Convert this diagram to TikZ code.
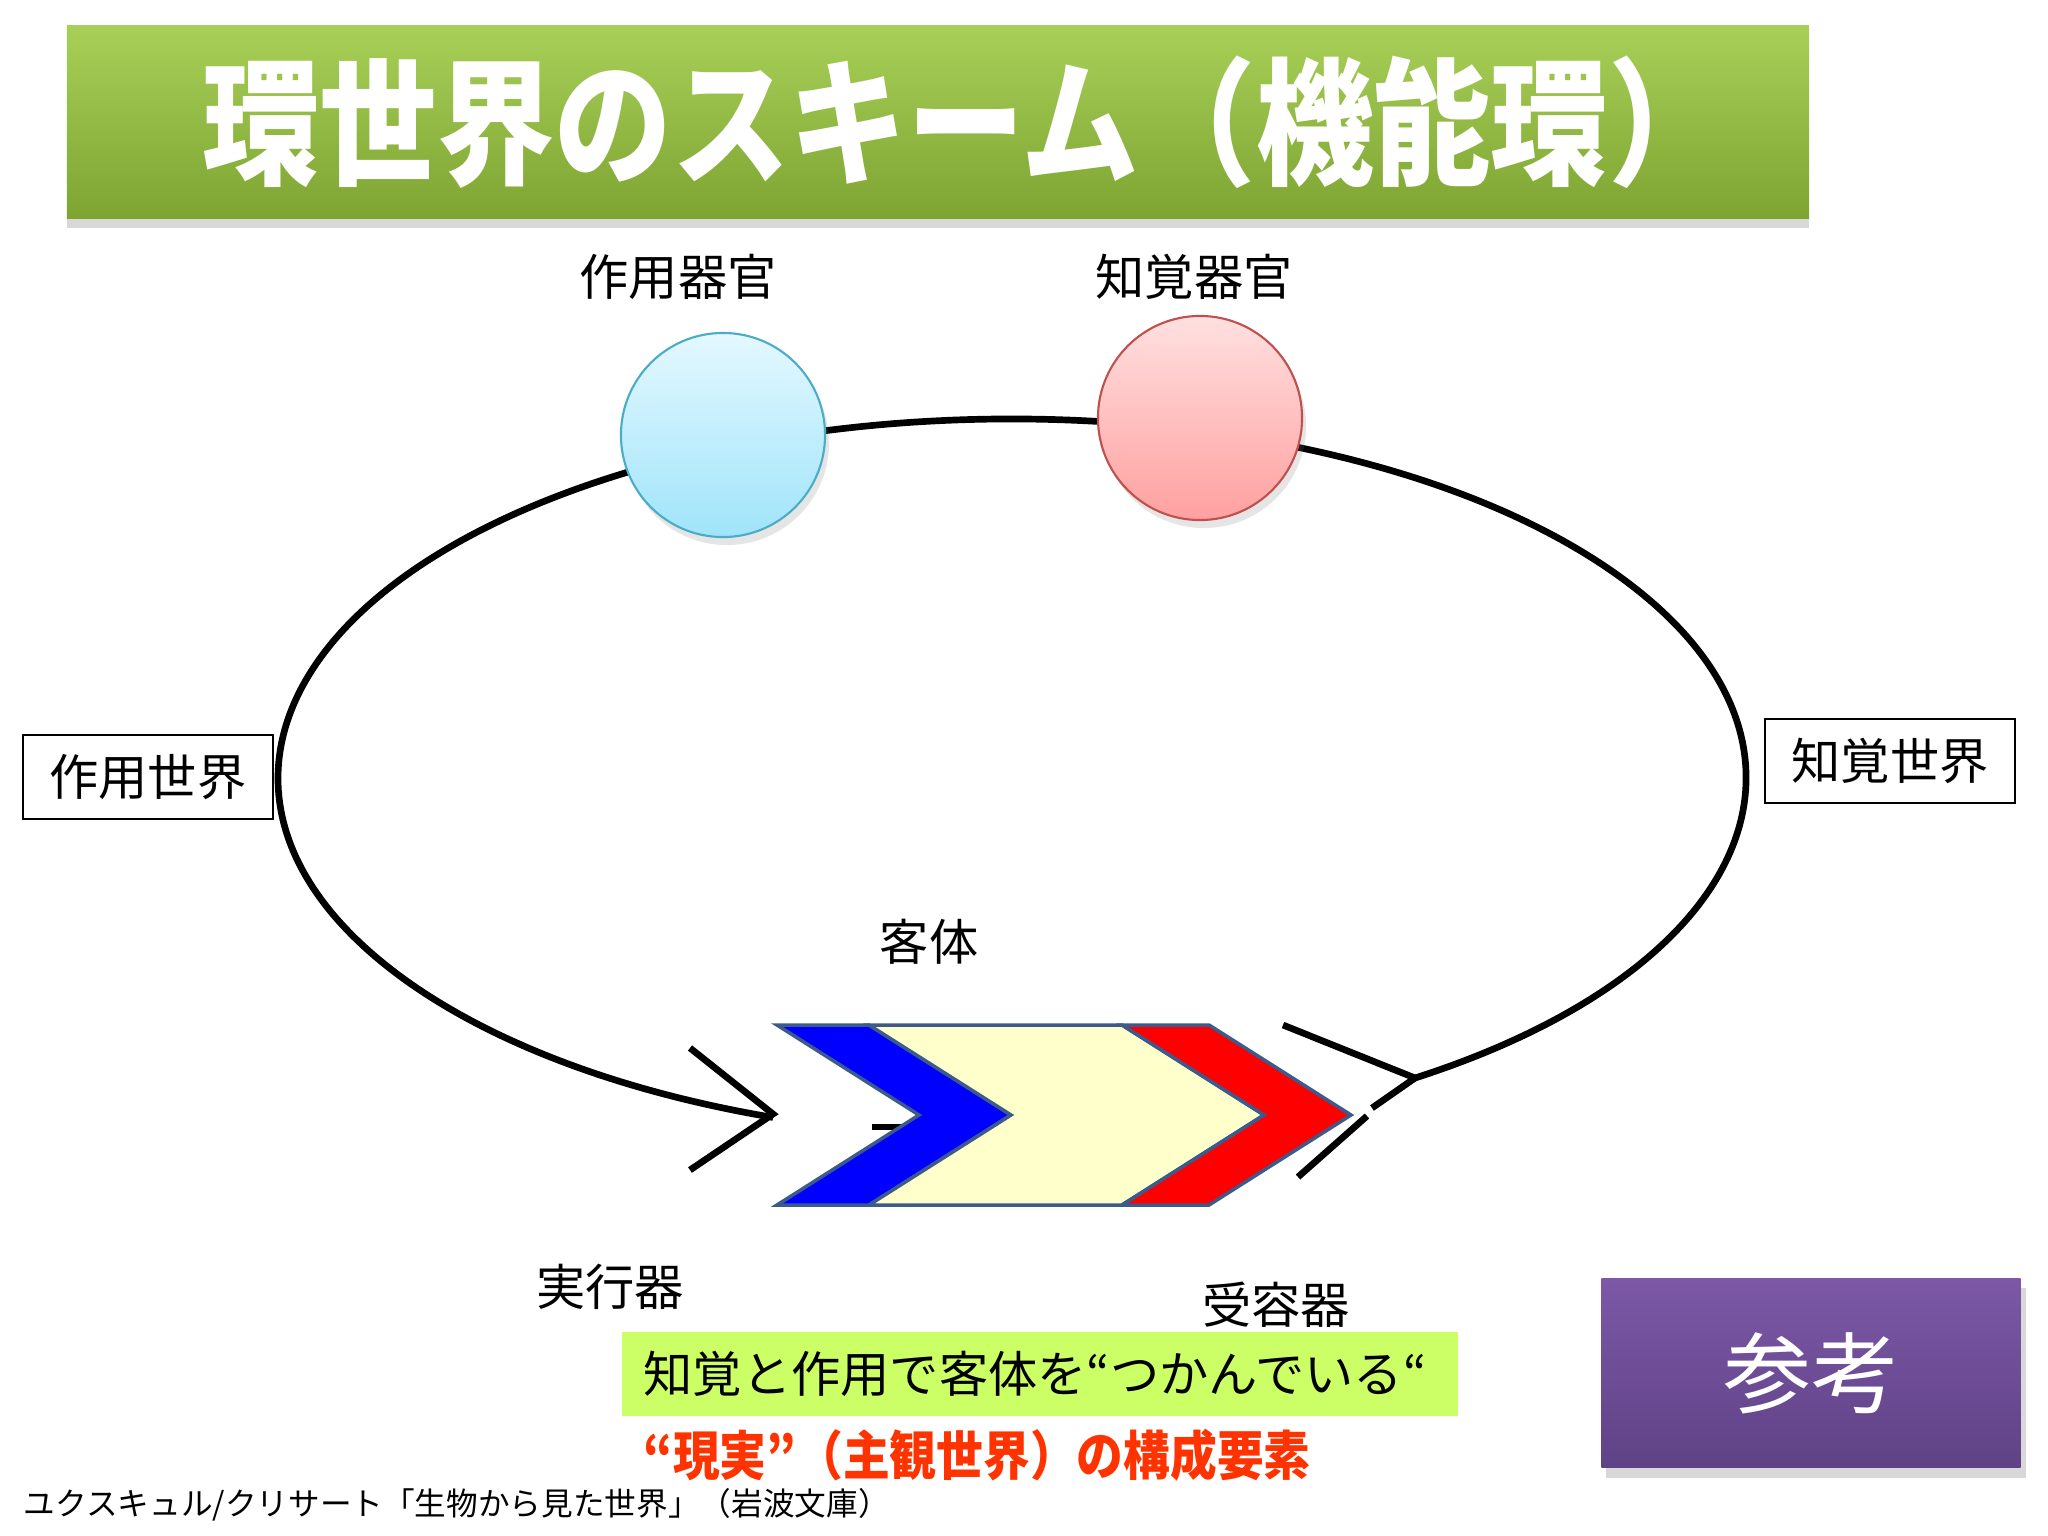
\documentclass[tikz,border=0pt]{standalone}
\usepackage{fontspec}
\setmainfont{Noto Sans CJK JP}
\usetikzlibrary{shadows}

\definecolor{titleTop}{RGB}{168,208,88}
\definecolor{titleBot}{RGB}{126,164,50}
\definecolor{effTop}{RGB}{228,248,255}
\definecolor{effBot}{RGB}{160,228,250}
\definecolor{effEdge}{RGB}{75,172,198}
\definecolor{percTop}{RGB}{255,224,224}
\definecolor{percBot}{RGB}{255,160,160}
\definecolor{percEdge}{RGB}{192,80,77}
\definecolor{objEdge}{RGB}{60,90,140}
\definecolor{objCore}{RGB}{255,255,204}
\definecolor{noteGreen}{RGB}{204,255,102}
\definecolor{noteRed}{RGB}{255,51,0}
\definecolor{refTop}{RGB}{124,88,166}
\definecolor{refBot}{RGB}{95,66,134}

\begin{document}
\begin{tikzpicture}
[x=0.01cm, y=-0.01cm,
  loopLine/.style={line width=1.9pt},
  organBall/.style={circle, minimum size=2.04cm, inner sep=0pt, line width=0.6pt,
    drop shadow={opacity=0.2, shadow xshift=0.4mm, shadow yshift=-0.8mm}},
  worldBox/.style={draw, line width=0.6pt, fill=white, inner sep=0pt,
    minimum width=2.5cm, minimum height=0.84cm, font=\fontsize{14}{16}\selectfont},
  partLabel/.style={inner sep=0pt, font=\fontsize{14}{16}\selectfont},
  chevPart/.style={draw=objEdge, line width=1pt, line join=miter}]
\useasboundingbox (0,0) rectangle (2048,1536);
\fill[white] (0,0) rectangle (2048,1536);

%% title bar
\node[minimum width=17.41cm, minimum height=1.92cm, inner sep=0pt,
  top color=titleTop, bottom color=titleBot,
  drop shadow={opacity=0.3, shadow xshift=0pt, shadow yshift=-1mm},
  text=white, font=\bfseries\fontsize{33.4}{36}\selectfont]
  (title) at (938,122) {\hspace*{0.52cm}\scalebox{1}[1.17]{環世界のスキーム（機能環）}};

%% the loop
\coordinate (loopEnd) at (1415,1078);
\coordinate (loopTip) at (773,1114);
\coordinate (tipUp) at (690,1048);
\coordinate (tipLow) at (690,1170);
\coordinate (featherUp) at (1283,1025);
\coordinate (featherMid) at (1372,1108);
\coordinate (featherJog) at (1367,1116);
\coordinate (featherLow) at (1298,1177);
\draw[loopLine] (loopEnd) arc[start angle=56.7, end angle=-251, x radius=734, y radius=359];
\draw[loopLine] (tipUp) -- (loopTip) -- (tipLow);
\draw[loopLine] (featherUp) -- (loopEnd) -- (featherMid);
\draw[loopLine] (featherJog) -- (featherLow);
\draw[loopLine] (872,1127) -- (912,1127);

%% organs
\node[organBall, draw=effEdge, top color=effTop, bottom color=effBot] (effOrgan) at (723,435) {};
\node[organBall, draw=percEdge, top color=percTop, bottom color=percBot] (percOrgan) at (1200,418) {};

%% the object
\foreach \fillcol/\xa/\xb in {blue/777/869, objCore/869/1122, red/1122/1209}
{
  \draw[chevPart, fill=\fillcol] (\xa,1025) -- (\xb,1025) -- (\xb+142,1115)
    -- (\xb,1205) -- (\xa,1205) -- (\xa+142,1115) -- cycle;
}

%% labels
\foreach \nodename/\word/\x/\y in {
  effLabel/作用器官/678/277, percLabel/知覚器官/1194/277, objLabel/客体/929/942,
  effectorLabel/実行器/610/1287, receptorLabel/受容器/1276/1305}
{
  \node[partLabel] (\nodename) at (\x,\y) {\word};
}
\node[worldBox] (effWorld) at (148,777) {作用世界};
\node[worldBox] (percWorld) at (1890,761) {知覚世界};

%% notes
\node[fill=noteGreen, anchor=west, inner xsep=0.22cm, inner ysep=0pt, text width=7.92cm,
  minimum height=0.83cm, font=\fontsize{14}{16}\selectfont]
  (graspNote) at (621,1374) {知覚と作用で客体を“つかんでいる“};
\node[anchor=west, inner sep=0pt, text=noteRed, font=\bfseries\fontsize{14}{16}\selectfont]
  (realNote) at (643,1455) {\scalebox{0.95}[1.08]{“現実”（主観世界）の構成要素}};
\node[anchor=west, inner sep=0pt, font=\fontsize{9}{11}\selectfont]
  (source) at (23,1505) {ユクスキュル/クリサート「生物から見た世界」（岩波文庫）};
\node[minimum width=4.19cm, minimum height=1.89cm, inner sep=0pt,
  top color=refTop, bottom color=refBot,
  drop shadow={opacity=0.3, shadow xshift=0.5mm, shadow yshift=-1mm},
  text=white, font=\fontsize{25}{28}\selectfont]
  (refTag) at (1811,1373) {参考};
\end{tikzpicture}
\end{document}
